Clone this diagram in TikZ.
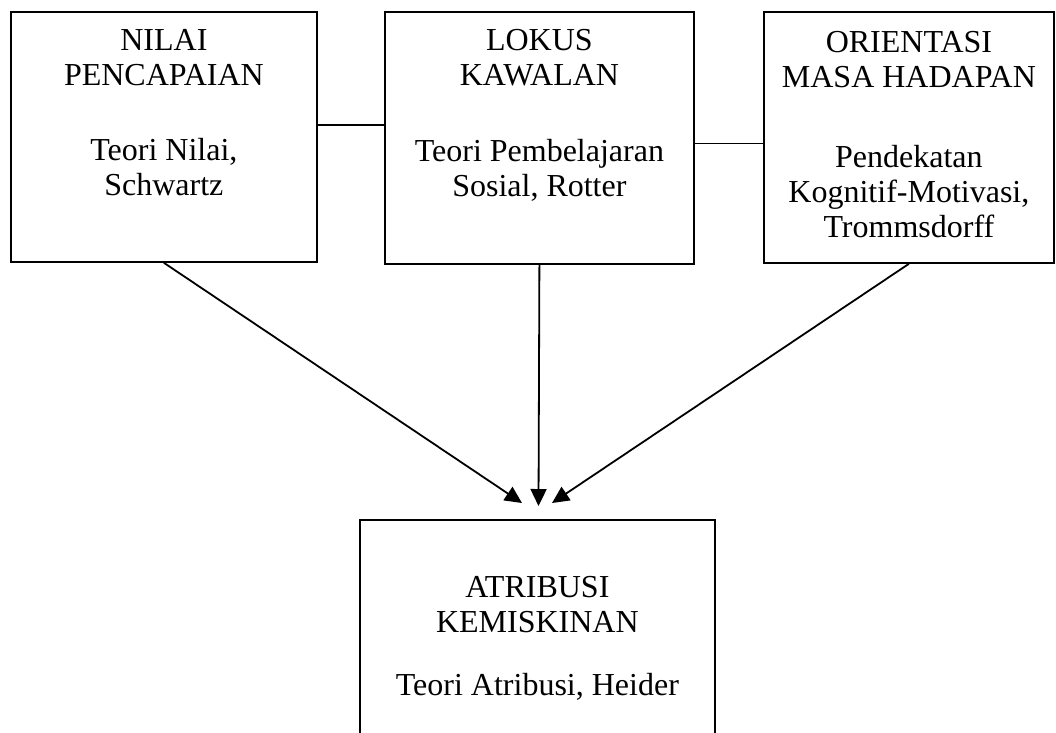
\documentclass[tikz,border=0pt]{standalone}
\usepackage{fontspec}
\setmainfont{Liberation Serif}
\usetikzlibrary{arrows.meta}
\newcommand\boxtext[4]{\parbox[t][#2][t]{#1}{\centering\vspace*{#3}#4}}
\tikzset{
  box/.style={draw, line width=1.8pt, inner sep=0pt, anchor=north west, font=\fontsize{32}{35}\selectfont},
  conn/.style={line width=1.8pt},
  arr/.style={line width=1.8pt, -{Triangle[length=17pt,width=16pt]}}
}
\begin{document}
\begin{tikzpicture}[x=1pt,y=-1pt]
\useasboundingbox (0,0) rectangle (1056,732);
\clip (0,0) rectangle (1056,732);
\node[box] (nilai) at (10,11) {\boxtext{306pt}{250pt}{17pt}{NILAI\\PENCAPAIAN\\[40pt]Teori Nilai,\\Schwartz}};
\node[box] (lokus) at (384,11) {\boxtext{309pt}{252pt}{17pt}{LOKUS\\KAWALAN\\[41pt]Teori Pembelajaran\\Sosial, Rotter}};
\node[box] (orient) at (763,11) {\boxtext{290pt}{251pt}{19pt}{ORIENTASI\\MASA HADAPAN\\[45pt]Pendekatan\\Kognitif-Motivasi,\\Trommsdorff}};
\node[box] (atrib) at (359,519) {\boxtext{355pt}{300pt}{56pt}{ATRIBUSI\\KEMISKINAN\\[28pt]Teori Atribusi, Heider}};
\coordinate (t1) at (522,503);
\coordinate (t2) at (538.5,506);
\coordinate (t3) at (552,503);
\draw[conn] ([yshift=12pt]nilai.east) -- ([yshift=12pt]nilai.east -| lokus.west);
\draw[conn] ([yshift=-5.5pt]lokus.east) -- ([yshift=-5.5pt]lokus.east -| orient.west);
\draw[arr] (nilai.south) -- (t1);
\draw[arr] (lokus.south) -- (t2);
\draw[arr] (orient.south) -- (t3);
\end{tikzpicture}
\end{document}
